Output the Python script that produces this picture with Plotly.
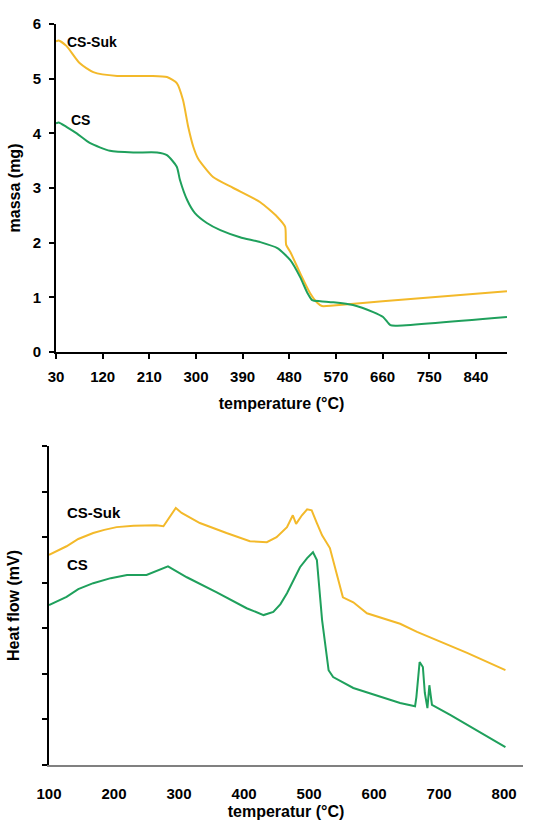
import plotly.graph_objects as go

# ---------------- TGA data (top) ----------------
tga_suk_T = [30, 35, 50, 76, 102, 148, 212, 244, 263, 275, 285, 295, 304, 333, 372, 424, 457, 472, 474, 482, 501, 520, 534, 543, 565, 660, 900]
tga_suk_m = [5.68, 5.70, 5.60, 5.28, 5.12, 5.05, 5.05, 5.03, 4.92, 4.61, 4.12, 3.75, 3.54, 3.20, 3.00, 2.74, 2.47, 2.29, 1.96, 1.83, 1.44, 1.08, 0.90, 0.84, 0.85, 0.93, 1.11]

tga_cs_T = [30, 35, 50, 70, 96, 134, 179, 225, 244, 263, 269, 283, 298, 321, 347, 385, 424, 457, 482, 501, 515, 524, 540, 565, 603, 642, 661, 675, 685, 900]
tga_cs_m = [4.18, 4.20, 4.12, 4.00, 3.82, 3.68, 3.65, 3.65, 3.60, 3.39, 3.15, 2.78, 2.54, 2.36, 2.23, 2.10, 2.01, 1.90, 1.68, 1.37, 1.08, 0.95, 0.93, 0.91, 0.86, 0.73, 0.64, 0.49, 0.48, 0.64]

# ---------------- DSC data (bottom) ----------------
dsc_suk_T = [100, 115, 127, 145, 168, 185, 204, 230, 265, 276, 286, 295, 304, 332, 373, 409, 435, 450, 466, 475, 480, 489, 497, 504, 512, 520, 532, 542, 552, 568, 589, 640, 666, 743, 802]
dsc_suk_v = [4.61, 4.71, 4.80, 4.96, 5.09, 5.16, 5.22, 5.25, 5.26, 5.24, 5.44, 5.64, 5.53, 5.31, 5.09, 4.91, 4.89, 5.00, 5.22, 5.48, 5.29, 5.48, 5.61, 5.59, 5.31, 5.04, 4.76, 4.25, 3.68, 3.57, 3.33, 3.10, 2.92, 2.46, 2.08]

dsc_cs_T = [100, 115, 127, 145, 168, 195, 220, 250, 260, 283, 312, 358, 404, 430, 445, 456, 466, 476, 486, 497, 506, 512, 517, 520, 530, 537, 568, 615, 640, 663, 665, 670, 675, 678, 682, 685, 689, 717, 752, 802]
dsc_cs_v = [3.51, 3.61, 3.69, 3.86, 3.99, 4.10, 4.17, 4.17, 4.23, 4.36, 4.12, 3.79, 3.44, 3.29, 3.36, 3.53, 3.77, 4.07, 4.34, 4.54, 4.67, 4.50, 3.77, 3.18, 2.08, 1.93, 1.69, 1.47, 1.36, 1.29, 1.49, 2.26, 2.15, 1.58, 1.25, 1.75, 1.32, 1.10, 0.81, 0.39]

top_xticks = [30, 120, 210, 300, 390, 480, 570, 660, 750, 840]
top_yticks = [0, 1, 2, 3, 4, 5, 6]
bot_xticks = [100, 200, 300, 400, 500, 600, 700, 800]
bot_yticks = [0, 1, 2, 3, 4, 5, 6, 7]

YELLOW = "#F3B92A"
GREEN = "#1FA05C"
FONT = "Liberation Sans, Arial, sans-serif"

fig = go.Figure()
fig.add_trace(go.Scatter(x=tga_suk_T, y=tga_suk_m, mode="lines", line=dict(color=YELLOW, width=2, shape="spline", smoothing=0.6), xaxis="x", yaxis="y", showlegend=False))
fig.add_trace(go.Scatter(x=tga_cs_T, y=tga_cs_m, mode="lines", line=dict(color=GREEN, width=2, shape="spline", smoothing=0.6), xaxis="x", yaxis="y", showlegend=False))
fig.add_trace(go.Scatter(x=dsc_suk_T, y=dsc_suk_v, mode="lines", line=dict(color=YELLOW, width=2), xaxis="x2", yaxis="y2", showlegend=False))
fig.add_trace(go.Scatter(x=dsc_cs_T, y=dsc_cs_v, mode="lines", line=dict(color=GREEN, width=2), xaxis="x2", yaxis="y2", showlegend=False))

tickfont = dict(family=FONT, size=15, color="black", weight="bold")
titlefont = dict(family=FONT, size=16, color="black", weight="bold")

fig.update_layout(
    width=548, height=825,
    margin=dict(l=0, r=0, t=0, b=0),
    paper_bgcolor="white", plot_bgcolor="white",
    xaxis=dict(domain=[56/548, 507/548], range=[30, 900], tickvals=top_xticks, automargin=False,
               showgrid=False, zeroline=False, showline=True, linecolor="black", linewidth=2,
               ticks="outside", ticklen=5, tickwidth=2, tickcolor="black", tickfont=tickfont,
               ticklabelstandoff=5,
               title=dict(text="temperature (°C)", font=titlefont, standoff=14), anchor="y"),
    yaxis=dict(domain=[1-352/825, 1-24/825], range=[0, 6], tickvals=top_yticks, automargin=False,
               showgrid=False, zeroline=False, showline=True, linecolor="black", linewidth=2,
               ticks="outside", ticklen=5, tickwidth=2, tickcolor="black", tickfont=tickfont,
               ticklabelstandoff=5,
               title=dict(text="massa (mg)", font=titlefont, standoff=8), anchor="x"),
    xaxis2=dict(domain=[49/548, 523/548], range=[100, 829], tickvals=bot_xticks, automargin=False,
                showgrid=False, zeroline=False, showline=True, linecolor="#808080", linewidth=2,
                ticks="", tickfont=tickfont, ticklabelstandoff=14,
                title=dict(text="temperatur (°C)", font=titlefont, standoff=5), anchor="y2"),
    yaxis2=dict(domain=[1-765/825, 1-446/825], range=[0, 7], tickvals=bot_yticks, automargin=False,
                showgrid=False, zeroline=False, showline=True, linecolor="black", linewidth=2,
                ticks="outside", ticklen=5, tickwidth=2, tickcolor="black", showticklabels=False,
                title=dict(text="Heat flow (mV)", font=titlefont, standoff=18), anchor="x2"),
)

labfont = dict(family=FONT, size=15, color="black", weight="bold")
fig.add_annotation(x=47, y=5.67, xref="x", yref="y", text="CS-Suk", showarrow=False, xanchor="left", font=dict(family=FONT, size=14, color="black", weight="bold"))
fig.add_annotation(x=55, y=4.24, xref="x", yref="y", text="CS", showarrow=False, xanchor="left", font=dict(family=FONT, size=14, color="black", weight="bold"))
fig.add_annotation(x=125, y=5.53, xref="x2", yref="y2", text="CS-Suk", showarrow=False, xanchor="left", font=labfont)
fig.add_annotation(x=125, y=4.39, xref="x2", yref="y2", text="CS", showarrow=False, xanchor="left", font=labfont)

fig.write_html("out.html", config={"displayModeBar": False},
               post_script="document.body.style.margin='0';document.body.style.overflow='hidden';")
